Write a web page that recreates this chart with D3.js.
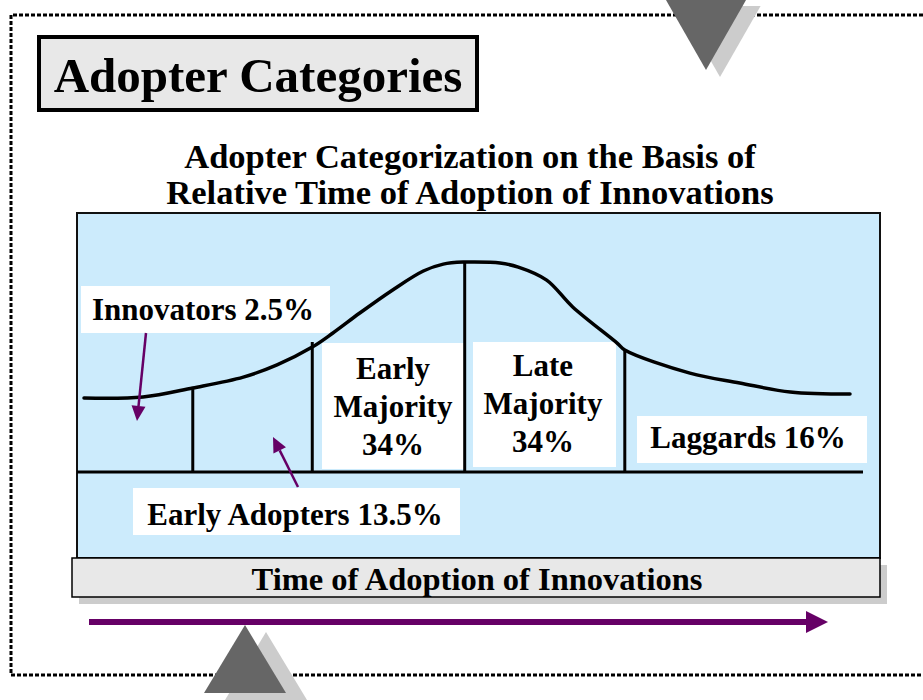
<!DOCTYPE html>
<html>
<head>
<meta charset="utf-8">
<script src="https://cdn.jsdelivr.net/npm/d3@7"></script>
<style>
  body { margin: 0; background: #fff; }
  svg { display: block; }
</style>
</head>
<body>
<div id="board"></div>
<script>
// ---- data ----
// relative time of adoption (0-100) and height of the adoption curve (0-1)
const curveTime = [0, 7.7, 14.2, 20.8, 25.2, 29.8, 32.5, 36.0, 40.3, 44.3, 46.9, 49.7,
                   50.4, 54.3, 56.7, 60.4, 63.8, 69.6, 70.6, 79.1, 85.6, 92.2, 100];
const curveDensity = [0.352, 0.357, 0.40, 0.452, 0.51, 0.595, 0.662, 0.757, 0.867, 0.957, 0.99, 1.0,
                      1.0, 0.995, 0.976, 0.914, 0.786, 0.614, 0.581, 0.471, 0.424, 0.381, 0.371];

// category boundaries (mean - 2sd, mean - sd, mean, mean + sd) and where each line stops at the top
const dividerTime = [14.2, 29.8, 49.7, 70.6];
const dividerTop = [0.395, 0.619, 1.0, 0.581];

const categories = ["Innovators", "Early Adopters", "Early Majority", "Late Majority", "Laggards"];
const shares = [2.5, 13.5, 34, 34, 16];

const pageTitle = "Adopter Categories";
const chartTitle = ["Adopter Categorization on the Basis of", "Relative Time of Adoption of Innovations"];
const axisTitle = "Time of Adoption of Innovations";

// ---- layout ----
const width = 923;
const height = 700;
const serif = "'Liberation Serif', 'Times New Roman', Times, serif";
const purple = "#660066";

const svg = d3.create("svg")
    .attr("width", width)
    .attr("height", height);

// scales: time -> x, curve height -> y
const x = d3.scaleLinear().domain([0, 100]).range([84, 850]);
const y = d3.scaleLinear().domain([0, 1]).range([472, 262]);

// dotted frame (open on the right)
svg.append("path")
    .attr("d", `M${width},15 H11 V675 H${width}`)
    .attr("fill", "none")
    .attr("stroke", "#000")
    .attr("stroke-width", 3)
    .attr("stroke-dasharray", "4,2");

// title box
svg.append("rect")
    .attr("x", 39).attr("y", 37)
    .attr("width", 438).attr("height", 73)
    .attr("fill", "#e8e8e8")
    .attr("stroke", "#000")
    .attr("stroke-width", 4);
svg.append("text")
    .attr("x", 258).attr("y", 92)
    .attr("text-anchor", "middle")
    .attr("font-family", serif)
    .attr("font-weight", "bold")
    .attr("font-size", 49)
    .text(pageTitle);

// chart title
svg.append("g")
    .selectAll("text")
    .data(chartTitle)
    .join("text")
    .attr("x", 470)
    .attr("y", (d, i) => 168 + i * 36)
    .attr("text-anchor", "middle")
    .attr("font-family", serif)
    .attr("font-weight", "bold")
    .attr("font-size", 34.5)
    .text(d => d);

// light blue panel
svg.append("rect")
    .attr("x", 77).attr("y", 213)
    .attr("width", 803).attr("height", 345)
    .attr("fill", "#ccebfc")
    .attr("stroke", "#111")
    .attr("stroke-width", 2);

// label boxes (pixel layout for the annotations)
const labelBoxes = [
  {x: 81,  y: 286, w: 249, h: 47,  cx: 203, lines: [`${categories[0]} ${shares[0]}%`], base: 320},
  {x: 133, y: 488, w: 327, h: 47,  cx: 295, lines: [`${categories[1]} ${shares[1]}%`], base: 525},
  {x: 322, y: 343, w: 142, h: 126, cx: 393, lines: ["Early", "Majority", `${shares[2]}%`], base: 379},
  {x: 473, y: 342, w: 143, h: 125, cx: 543, lines: ["Late", "Majority", `${shares[3]}%`], base: 376},
  {x: 637, y: 416, w: 230, h: 47,  cx: 748, lines: [`${categories[4]} ${shares[4]}%`], base: 448}
];

const boxes = svg.append("g")
    .selectAll("g")
    .data(labelBoxes)
    .join("g");
boxes.append("rect")
    .attr("x", d => d.x).attr("y", d => d.y)
    .attr("width", d => d.w).attr("height", d => d.h)
    .attr("fill", "#fff");
boxes.each(function (d) {
  d3.select(this).selectAll("text")
      .data(d.lines)
      .join("text")
      .attr("x", d.cx)
      .attr("y", (t, i) => d.base + i * 38)
      .attr("text-anchor", "middle")
      .attr("font-family", serif)
      .attr("font-weight", "bold")
      .attr("font-size", 31)
      .text(t => t);
});

// baseline
svg.append("line")
    .attr("x1", 77).attr("x2", x(100) + 13)
    .attr("y1", y(0)).attr("y2", y(0))
    .attr("stroke", "#000")
    .attr("stroke-width", 3);

// adoption curve
const line = d3.line()
    .x((d, i) => x(curveTime[i]))
    .y(d => y(d))
    .curve(d3.curveCatmullRom);
svg.append("path")
    .attr("d", line(curveDensity))
    .attr("fill", "none")
    .attr("stroke", "#000")
    .attr("stroke-width", 3.5)
    .attr("stroke-linecap", "round")
    .attr("stroke-linejoin", "round");

// category dividers
svg.append("g")
    .selectAll("line")
    .data(dividerTime)
    .join("line")
    .attr("x1", d => x(d)).attr("x2", d => x(d))
    .attr("y1", (d, i) => y(dividerTop[i]))
    .attr("y2", y(0))
    .attr("stroke", "#000")
    .attr("stroke-width", 3);

// purple pointer arrows
function arrow(x1, y1, x2, y2, w, headLen, headHalf) {
  const a = Math.atan2(y2 - y1, x2 - x1);
  const bx = x2 - headLen * Math.cos(a), by = y2 - headLen * Math.sin(a);
  const nx = -Math.sin(a), ny = Math.cos(a);
  const g = svg.append("g");
  g.append("line")
      .attr("x1", x1).attr("y1", y1).attr("x2", bx).attr("y2", by)
      .attr("stroke", purple).attr("stroke-width", w);
  g.append("polygon")
      .attr("points", [[x2, y2], [bx + nx * headHalf, by + ny * headHalf], [bx - nx * headHalf, by - ny * headHalf]].join(" "))
      .attr("fill", purple);
}
arrow(146, 333, 137, 421, 2.5, 15, 7);
arrow(298, 487, 273, 437, 2.5, 15, 7);

// time axis bar with shadow
svg.append("rect")
    .attr("x", 79).attr("y", 565)
    .attr("width", 808).attr("height", 39)
    .attr("fill", "#cccccc");
svg.append("rect")
    .attr("x", 72).attr("y", 558)
    .attr("width", 808).attr("height", 39)
    .attr("fill", "#e8e8e8")
    .attr("stroke", "#000")
    .attr("stroke-width", 1.5);
svg.append("text")
    .attr("x", 477).attr("y", 590)
    .attr("text-anchor", "middle")
    .attr("font-family", serif)
    .attr("font-weight", "bold")
    .attr("font-size", 32.5)
    .text(axisTitle);

// long time arrow
arrow(89, 622, 828, 622, 6, 22, 11);

// decorative triangles: light shadow first, dark on top
const triTop = [[665.4, -1], [746.6, -1], [706, 70]];
const triBottom = [[245, 625], [204, 693], [286, 693]];
function tri(pts, dx, dy, fill) {
  svg.append("polygon")
      .attr("points", pts.map(p => [p[0] + dx, p[1] + dy]).join(" "))
      .attr("fill", fill);
}
tri(triTop, 14, 7, "#cccccc");
tri(triTop, 0, 0, "#666666");
tri(triBottom, 21, 7, "#cccccc");
tri(triBottom, 0, 0, "#666666");

document.getElementById("board").append(svg.node());
</script>
</body>
</html>
